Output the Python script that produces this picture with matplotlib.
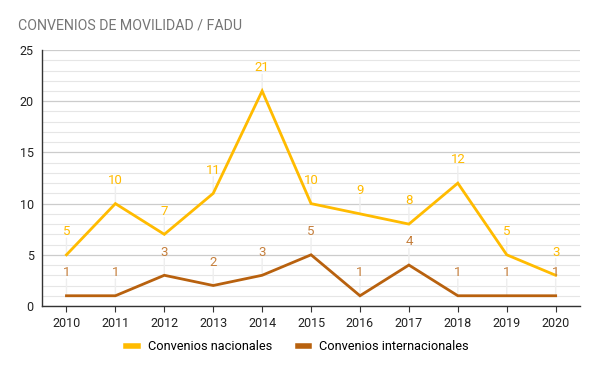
import matplotlib
matplotlib.use("Agg")
import matplotlib.pyplot as plt
from matplotlib.lines import Line2D

years = ["2010", "2011", "2012", "2013", "2014", "2015", "2016", "2017", "2018", "2019", "2020"]
nacionales = [5, 10, 7, 11, 21, 10, 9, 8, 12, 5, 3]
internacionales = [1, 1, 3, 2, 3, 5, 1, 4, 1, 1, 1]
title = "CONVENIOS DE MOVILIDAD / FADU"
label_nac = "Convenios nacionales"
label_int = "Convenios internacionales"

c_nac = "#FFBB00"
c_int = "#B8610E"
c_int_txt = "#C57F3C"

plt.rcParams['font.family'] = ['Roboto', 'DejaVu Sans']

fig = plt.figure(figsize=(5.95, 3.68), dpi=100)
ax = fig.add_axes([0.0706, 0.1685, 0.9044, 0.6955])

x = list(range(len(years)))
ax.set_xlim(-0.5, len(years) - 0.5)
ax.set_ylim(0, 25)

# gridlines
for v in range(0, 26):
    if v % 5 == 0:
        ax.axhline(v, color="#cccccc", lw=0.9, zorder=0)
    else:
        ax.axhline(v, color="#e6e6e6", lw=0.8, zorder=0)

ax.plot(x, nacionales, color=c_nac, lw=2, zorder=3, solid_joinstyle='miter')
ax.plot(x, internacionales, color=c_int, lw=2, zorder=3, solid_joinstyle='miter')

for xi, v in zip(x, nacionales):
    ax.annotate("", xy=(xi, v), xytext=(0, 12), textcoords="offset points",
                arrowprops=dict(arrowstyle="-", color="#eeeeee", lw=1, shrinkA=0, shrinkB=0), zorder=1)
    ax.annotate(str(v), xy=(xi, v), xytext=(0, 12), textcoords="offset points",
                ha="center", va="bottom", color=c_nac, fontsize=9.5, zorder=4)
for xi, v in zip(x, internacionales):
    ax.annotate("", xy=(xi, v), xytext=(0, 12), textcoords="offset points",
                arrowprops=dict(arrowstyle="-", color="#eeeeee", lw=1, shrinkA=0, shrinkB=0), zorder=1)
    ax.annotate(str(v), xy=(xi, v), xytext=(0, 12), textcoords="offset points",
                ha="center", va="bottom", color=c_int_txt, fontsize=9.5, zorder=4)

ax.set_xticks(x)
ax.set_xticklabels(years, fontsize=9, color="#222222")
ax.set_yticks([0, 5, 10, 15, 20, 25])
ax.set_yticklabels(["0", "5", "10", "15", "20", "25"], fontsize=9, color="#222222")
ax.tick_params(axis='y', length=0, pad=6)
ax.tick_params(axis='x', length=4, width=0.8, color="#333333", pad=4)

for s in ["top", "right"]:
    ax.spines[s].set_visible(False)
ax.spines["left"].set_color("#333333")
ax.spines["bottom"].set_color("#333333")
ax.spines["left"].set_linewidth(1)
ax.spines["bottom"].set_linewidth(1)

fig.text(0.03, 0.93, title, fontsize=10.2, color="#757575", ha="left", va="center")

handles = [Line2D([0], [0], color=c_nac, lw=4), Line2D([0], [0], color=c_int, lw=4)]
fig.legend(handles, [label_nac, label_int], loc="center", bbox_to_anchor=(0.5, 0.058),
           ncol=2, frameon=False, fontsize=9.2, handlelength=0.9, columnspacing=2.0,
           handletextpad=0.8)

fig.savefig("out.png", dpi=100)
